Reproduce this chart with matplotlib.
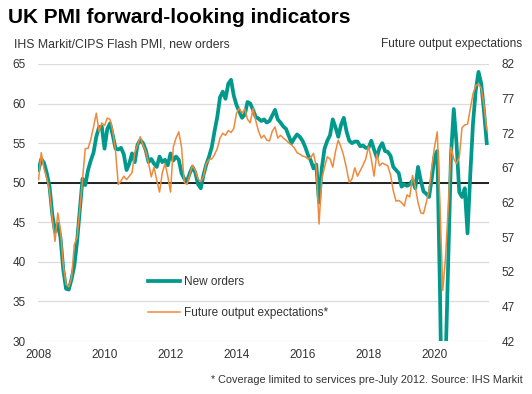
import numpy as np
import pandas as pd
import matplotlib
matplotlib.use("Agg")
import matplotlib.pyplot as plt

plt.rcParams['font.family'] = ['Liberation Sans', 'DejaVu Sans']

# monthly, Jan 2008 - Aug 2021
months = pd.date_range("2008-01-01", "2021-08-01", freq="MS")

# IHS Markit/CIPS flash PMI, new orders (left axis)
new_orders = [
    51.6, 53.0, 52.5, 51.2, 49.5, 46.0, 43.8, 44.8, 43.0, 39.0, 36.6, 36.5,   # 2008
    37.8, 39.5, 42.5, 46.5, 50.5, 49.7, 51.6, 52.8, 53.8, 55.8, 57.0, 57.1,   # 2009
    54.3, 56.8, 57.5, 56.0, 54.3, 54.2, 54.4, 53.6, 51.6, 52.4, 53.7, 52.6,   # 2010
    54.8, 55.4, 55.0, 54.1, 52.6, 53.0, 52.4, 52.0, 53.3, 52.6, 52.9, 52.2,   # 2011
    53.7, 52.8, 53.3, 52.9, 51.2, 50.5, 50.2, 51.2, 52.0, 51.3, 49.8, 49.3,   # 2012
    51.0, 52.3, 53.3, 54.5, 56.5, 58.3, 60.8, 61.5, 60.6, 62.5, 63.0, 61.0,   # 2013
    59.8, 59.0, 58.2, 58.6, 60.2, 60.0, 59.2, 58.3, 58.1, 57.8, 58.0, 57.6,   # 2014
    57.8, 58.5, 59.2, 58.0, 57.6, 57.1, 56.8, 55.9, 55.0, 55.6, 56.1, 55.8,   # 2015
    55.3, 54.5, 53.5, 52.8, 51.8, 52.3, 47.5, 51.8, 54.3, 55.3, 56.0, 58.0,   # 2016
    57.0, 55.8, 57.3, 58.2, 56.5, 55.3, 55.0, 55.2, 55.2, 54.6, 54.7, 54.4,   # 2017
    54.4, 55.3, 54.2, 53.2, 54.4, 55.0, 54.0, 53.9, 53.4, 52.0, 51.6, 51.2,   # 2018
    49.5, 49.8, 49.6, 49.8, 50.3, 49.3, 52.0, 50.3, 48.9, 48.6, 48.2, 50.5,   # 2019
    53.3, 54.0, 36.0, 13.0, 27.0, 40.0, 53.5, 59.3, 55.0, 48.8, 48.2, 49.3,   # 2020
    43.6, 51.0, 57.5, 61.7, 64.0, 62.5, 59.0, 55.0,                           # 2021
]

# Future output expectations (right axis)
future_output = [
    65.3, 69.2, 66.9, 65.5, 63.7, 59.7, 56.4, 60.5, 58.0, 52.9, 50.2, 49.8,   # 2008
    51.1, 55.9, 56.9, 60.9, 65.4, 69.8, 69.8, 71.1, 72.9, 74.9, 72.3, 73.5,   # 2009
    73.1, 74.2, 74.0, 72.3, 69.4, 64.6, 65.1, 65.8, 65.3, 65.8, 66.3, 69.2,   # 2010
    70.3, 71.5, 70.3, 69.4, 67.7, 65.7, 67.1, 65.2, 63.5, 66.3, 67.6, 65.8,   # 2011
    63.5, 70.0, 71.3, 72.2, 70.0, 64.9, 64.6, 66.0, 67.4, 66.6, 65.4, 65.0,   # 2012
    65.8, 67.6, 68.2, 68.3, 68.9, 69.8, 71.3, 72.0, 71.7, 72.4, 72.1, 72.7,   # 2013
    74.9, 75.6, 74.9, 75.5, 74.0, 73.5, 75.6, 73.8, 72.3, 71.3, 71.7, 71.0,   # 2014
    70.9, 72.3, 72.9, 71.3, 71.7, 71.3, 71.0, 70.6, 70.3, 69.9, 69.2, 69.0,   # 2015
    68.7, 68.6, 68.3, 68.5, 69.1, 67.1, 58.9, 65.4, 67.1, 68.6, 68.3, 67.1,   # 2016
    69.4, 71.0, 70.0, 68.7, 66.9, 64.9, 65.4, 67.0, 65.8, 66.6, 67.4, 68.3,   # 2017
    70.1, 68.3, 65.8, 69.0, 67.3, 67.7, 67.5, 67.3, 66.0, 63.7, 62.2, 62.3,   # 2018
    62.0, 61.5, 63.1, 62.8, 65.9, 64.3, 62.0, 60.5, 60.4, 62.0, 63.7, 67.1,   # 2019
    70.0, 72.2, 61.4, 49.3, 54.0, 61.4, 70.0, 68.3, 67.6, 68.5, 72.8, 73.2,   # 2020
    73.3, 75.5, 77.7, 78.9, 79.1, 78.5, 76.0, 72.5,                           # 2021
]

year_ticks = [2008, 2010, 2012, 2014, 2016, 2018, 2020]

teal = "#00998b"
orange = "#ee8a3c"
grey_txt = "#333333"

x = np.arange(len(months))
tick_pos = [(y - 2008) * 12 for y in year_ticks]

fig = plt.figure(figsize=(5.32, 3.94), dpi=100)
ax = fig.add_axes([0.0714, 0.1345, 0.8477, 0.7031])
ax2 = ax.twinx()

ax.plot(x, new_orders, color=teal, lw=2.7, solid_joinstyle="round", label="New orders", zorder=3)
ax2.plot(x, future_output, color=orange, lw=1.1, label="Future output expectations*", zorder=3)

ax.set_ylim(30, 65)
ax.set_yticks(np.arange(30, 66, 5))
ax2.set_ylim(42, 82)
ax2.set_yticks(np.arange(42, 83, 5))
ax.set_xlim(-0.2, 163.8)
ax.set_xticks(tick_pos)
ax.set_xticklabels([str(y) for y in year_ticks])

ax.grid(axis="y", color="#dcdcdc", lw=0.9)
ax.axhline(50, color="black", lw=1.2, zorder=2)
for a in (ax, ax2):
    for s in a.spines.values():
        s.set_visible(False)
    a.tick_params(length=0, labelsize=8.5, labelcolor=grey_txt)
ax.tick_params(axis="y", pad=9)
ax.tick_params(axis="x", pad=6)
ax2.tick_params(axis="y", pad=9)

h1, l1 = ax.get_legend_handles_labels()
h2, l2 = ax2.get_legend_handles_labels()
ax2.legend(h1 + h2, l1 + l2, loc="upper left", bbox_to_anchor=(0.278, 0.30),
           bbox_transform=fig.transFigure, frameon=False, fontsize=8.5,
           borderpad=0, borderaxespad=0, handlelength=2.7, handletextpad=0.4,
           labelspacing=1.6, labelcolor=grey_txt)

fig.text(0.015, 0.955, "UK PMI forward-looking indicators", fontsize=15,
         fontweight="bold", color="black", va="center", ha="left")
fig.text(0.026, 0.888, "IHS Markit/CIPS Flash PMI, new orders", fontsize=8.8,
         color=grey_txt, va="center", ha="left")
fig.text(0.982, 0.888, "Future output expectations", fontsize=8.6,
         color=grey_txt, va="center", ha="right")
fig.text(0.982, 0.036, "* Coverage limited to services pre-July 2012. Source: IHS Markit",
         fontsize=7.8, color=grey_txt, va="center", ha="right")

fig.savefig("out.png", dpi=100)
